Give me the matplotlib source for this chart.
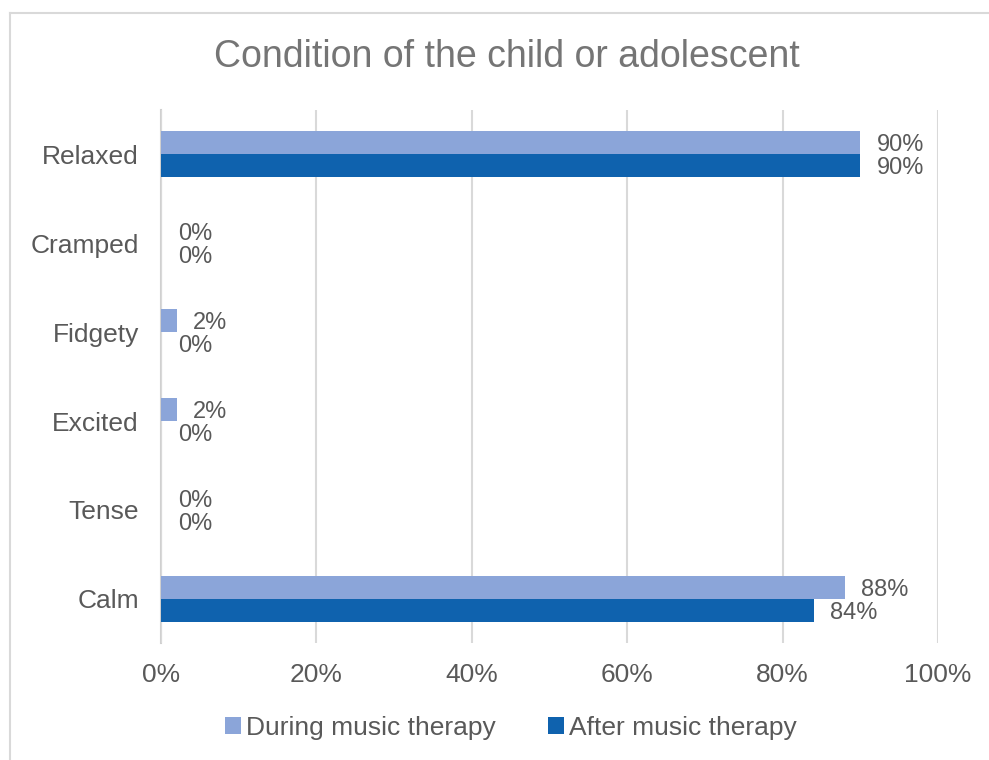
import matplotlib.pyplot as plt
import matplotlib.ticker as mticker
import numpy as np

plt.rcParams['font.family'] = ['Liberation Sans', 'DejaVu Sans']

categories = ["Calm", "Tense", "Excited", "Fidgety", "Cramped", "Relaxed"]
during = [88, 0, 2, 2, 0, 90]
after = [84, 0, 0, 0, 0, 90]
series_names = ["During music therapy", "After music therapy"]

c_during = "#8BA5D9"
c_after = "#0F62AE"
text_gray = "#595959"

fig = plt.figure(figsize=(9.89, 7.6), dpi=100)
ax = fig.add_axes([0.1628, 0.1533, 0.7856, 0.7026])

y = np.arange(len(categories))
h = 0.26
b1 = ax.barh(y + h / 2, during, height=h, color=c_during, label=series_names[0])
b2 = ax.barh(y - h / 2, after, height=h, color=c_after, label=series_names[1])

for bars, vals in [(b1, during), (b2, after)]:
    for bar, v in zip(bars, vals):
        ax.annotate(f"{v}%", (bar.get_width(), bar.get_y() + bar.get_height() / 2),
                    xytext=(12, -1.5), textcoords="offset points", ha="left", va="center",
                    fontsize=17, color=text_gray)

ax.set_xlim(0, 100)
ax.set_ylim(-0.5, len(categories) - 0.5)
ax.set_yticks(y)
ax.set_yticklabels(categories)
ax.xaxis.set_major_locator(mticker.MultipleLocator(20))
ax.xaxis.set_major_formatter(mticker.FuncFormatter(lambda v, p: f"{v:.0f}%"))
ax.tick_params(axis="y", length=0, pad=16, labelsize=19, labelcolor=text_gray)
ax.tick_params(axis="x", length=0, pad=14, labelsize=19, labelcolor=text_gray)
ax.grid(axis="x", color="#D9D9D9", linewidth=1.5)
ax.set_axisbelow(True)
for s in ["top", "right", "bottom"]:
    ax.spines[s].set_visible(False)
ax.spines["left"].set_color("#D0D0D0")
ax.spines["left"].set_linewidth(1.5)
ax.spines["left"].set_zorder(0.5)

fig.text(506.5 / 989, 1 - 57 / 760, "Condition of the child or adolescent",
         ha="center", va="center", fontsize=27, color="#757575")

fig.legend(handles=[b1, b2], labels=series_names, loc="center",
           bbox_to_anchor=(511 / 989, 1 - 728 / 760), ncol=2, frameon=False,
           fontsize=19, labelcolor=text_gray, handlelength=0.6, handleheight=0.6,
           handletextpad=0.2, columnspacing=2.0)

# chart area border
fig.add_artist(plt.Line2D([10 / 989, 10 / 989], [0, 1 - 13 / 760], transform=fig.transFigure,
                          color="#D9D9D9", linewidth=1.5))
fig.add_artist(plt.Line2D([10 / 989, 1], [1 - 13 / 760, 1 - 13 / 760], transform=fig.transFigure,
                          color="#D9D9D9", linewidth=1.5))

fig.savefig("out.png", dpi=100)
